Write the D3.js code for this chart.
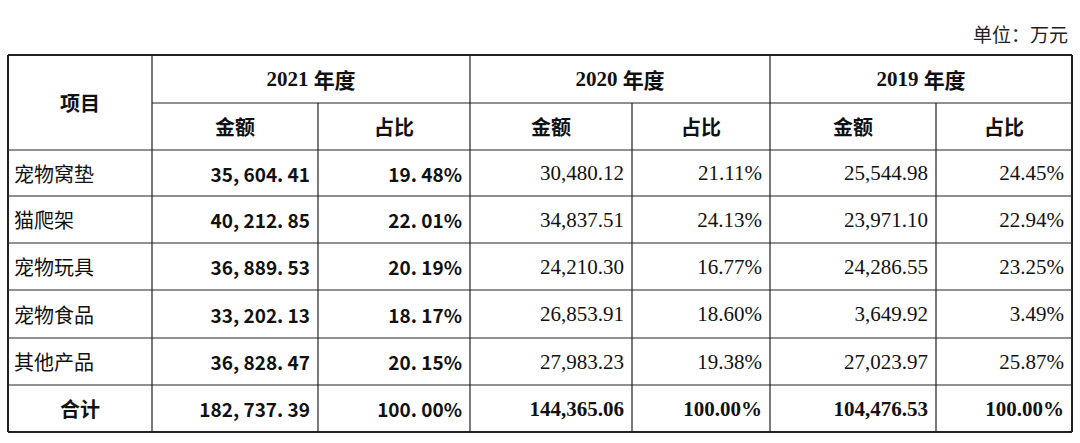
<!DOCTYPE html>
<html><head><meta charset="utf-8">
<script src="https://cdn.jsdelivr.net/npm/d3@7"></script>
<style>body{margin:0;background:#fff}</style></head>
<body><svg id="c" width="1080" height="443"></svg>
<script>
const unitLabel = "单位：万元";
const years = ["2021 年度", "2020 年度", "2019 年度"];
const subHeaders = ["金额", "占比"];
const categories = ["宠物窝垫", "猫爬架", "宠物玩具", "宠物食品", "其他产品", "合计"];
const amount2021 = ["35,604.41", "40,212.85", "36,889.53", "33,202.13", "36,828.47", "182,737.39"];
const share2021 = ["19.48%", "22.01%", "20.19%", "18.17%", "20.15%", "100.00%"];
const amount2020 = ["30,480.12", "34,837.51", "24,210.30", "26,853.91", "27,983.23", "144,365.06"];
const share2020 = ["21.11%", "24.13%", "16.77%", "18.60%", "19.38%", "100.00%"];
const amount2019 = ["25,544.98", "23,971.10", "24,286.55", "3,649.92", "27,023.97", "104,476.53"];
const share2019 = ["24.45%", "22.94%", "23.25%", "3.49%", "25.87%", "100.00%"];

const svg = d3.select("#c");
const colEdges = [8, 152, 318, 470, 632, 770, 936, 1072];
const rowEdges = [55, 103, 150, 196, 243, 290, 338, 385, 432];
const cjk = "'Noto Sans CJK SC', sans-serif";
const serif = "'Liberation Serif', 'Times New Roman', serif";
const mono = "'Noto Sans CJK SC', 'DejaVu Sans Mono', monospace";

svg.append("text").attr("x", 1068).attr("y", 42).attr("text-anchor", "end")
  .attr("font-family", cjk).attr("font-size", 19).attr("fill", "#222").text(unitLabel);

const g = svg.append("g").attr("stroke", "#222");
// horizontal lines
rowEdges.forEach((y, i) => {
  let x0 = colEdges[0];
  if (i === 1) x0 = colEdges[1];
  g.append("line").attr("x1", x0).attr("x2", colEdges[7]).attr("y1", y).attr("y2", y)
    .attr("stroke-width", (i === 0 || i === rowEdges.length - 1) ? 2 : 1.2);
});
colEdges.forEach((x, i) => {
  let y0 = rowEdges[0];
  if (i === 2 || i === 4 || i === 6) y0 = rowEdges[1];
  g.append("line").attr("x1", x).attr("x2", x).attr("y1", y0).attr("y2", rowEdges[8])
    .attr("stroke-width", (i === 0 || i === 7) ? 2 : 1.2);
});

function txt(x, y, s, anchor, font, weight, size) {
  svg.append("text").attr("x", x).attr("y", y).attr("text-anchor", anchor)
    .attr("dominant-baseline", "central").attr("font-family", font)
    .attr("font-weight", weight).attr("font-size", size).attr("fill", "#111").text(s);
}
// headers
txt((colEdges[0] + colEdges[1]) / 2, (rowEdges[0] + rowEdges[2]) / 2, "项目", "middle", cjk, "bold", 20);
years.forEach((y, i) => {
  const x0 = colEdges[1 + 2 * i], x1 = colEdges[3 + 2 * i];
  const parts = y.split(" ");
  const t = svg.append("text").attr("x", (x0 + x1) / 2).attr("y", (rowEdges[0] + rowEdges[1]) / 2)
    .attr("text-anchor", "middle").attr("dominant-baseline", "central").attr("font-size", 21)
    .attr("font-weight", "bold").attr("fill", "#111");
  t.append("tspan").attr("font-family", serif).text(parts[0] + " ");
  t.append("tspan").attr("font-family", cjk).text(parts[1]);
  subHeaders.forEach((s, j) => {
    const a = colEdges[1 + 2 * i + j], b = colEdges[2 + 2 * i + j];
    txt((a + b) / 2, (rowEdges[1] + rowEdges[2]) / 2, s, "middle", cjk, "bold", 20);
  });
});
const cols = [amount2021, share2021, amount2020, share2020, amount2019, share2019];
categories.forEach((c, r) => {
  const yc = (rowEdges[r + 2] + rowEdges[r + 3]) / 2;
  const total = r === categories.length - 1;
  if (total) txt((colEdges[0] + colEdges[1]) / 2, yc, c, "middle", cjk, "bold", 20);
  else txt(14, yc, c, "start", cjk, "normal", 20);
  cols.forEach((arr, k) => {
    const xr = colEdges[k + 2] - 8;
    if (k < 2) {
      const s = arr[r].replace(/,/g, ", ").replace(/\./g, ". ");
      txt(xr, yc, s, "end", mono, "bold", 19);
    } else {
      txt(xr, yc, arr[r], "end", serif, total ? "bold" : "normal", 21);
    }
  });
});
</script></body></html>
